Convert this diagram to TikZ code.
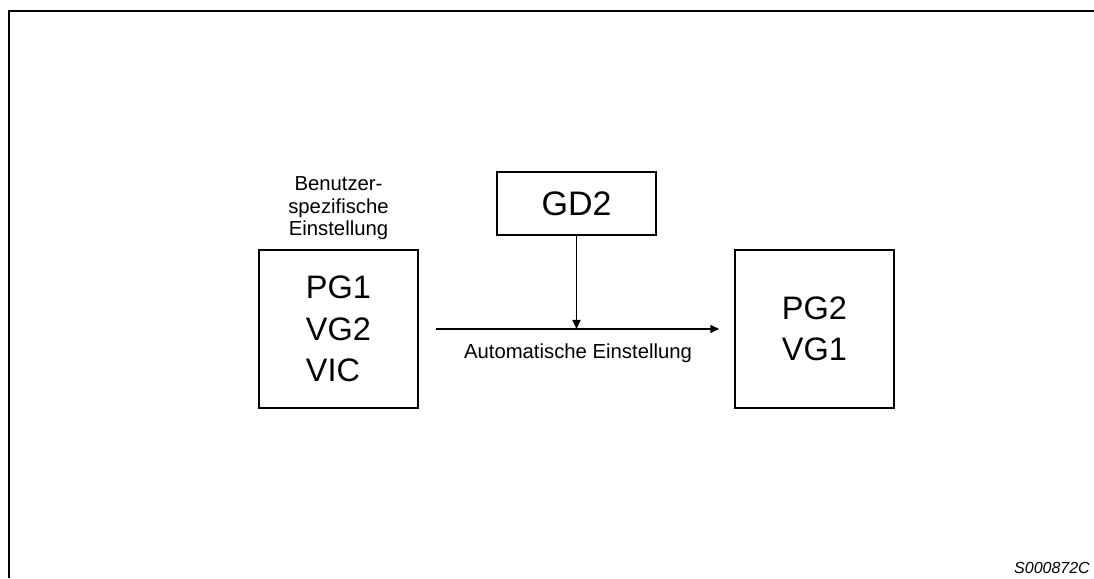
\documentclass[tikz,border=0pt]{standalone}
\usepackage{fontspec}
\setmainfont{Liberation Sans}
\usetikzlibrary{arrows.meta, positioning}

\begin{document}
\begin{tikzpicture}[
  x=1pt, y=1pt,
  box/.style={draw, line width=1.5pt, minimum width=159pt, minimum height=158pt,
              inner sep=0pt, align=left, font=\fontsize{32.5}{41.5}\selectfont},
  arr/.style={-{Triangle[length=9pt, width=8pt]}, line width=1.5pt},
  lbl/.style={inner sep=0pt, font=\fontsize{20.3}{22.5}\selectfont}
]
  \useasboundingbox (0,0) rectangle (1094,578);
  \draw[line width=2.5pt] (9,0) |- (1094,567);
  \node[box] (pg1) at (338.5,249) {PG1\\VG2\\VIC};
  \node[box] (pg2) at (814.5,249) {PG2\\VG1};
  \node[box, minimum height=63pt, align=center, font=\fontsize{34}{40}\selectfont] (gd2) at (576.5,374.5) {GD2};
  \node[lbl, align=center, above=9pt of pg1] (benutzer) {Benutzer-\\spezifische\\Einstellung};
  \draw[arr, shorten <=17pt, shorten >=15pt] (pg1) -- node[lbl, below=14pt, xshift=1.5pt] (auto) {Automatische Einstellung} (pg2);
  \draw[arr] (gd2) -- (gd2 |- pg1);
  \node[anchor=base east, inner sep=0pt, font=\fontsize{16}{16}\selectfont\itshape] (kennung) at (1090,4.7) {S000872C};
\end{tikzpicture}
\end{document}
